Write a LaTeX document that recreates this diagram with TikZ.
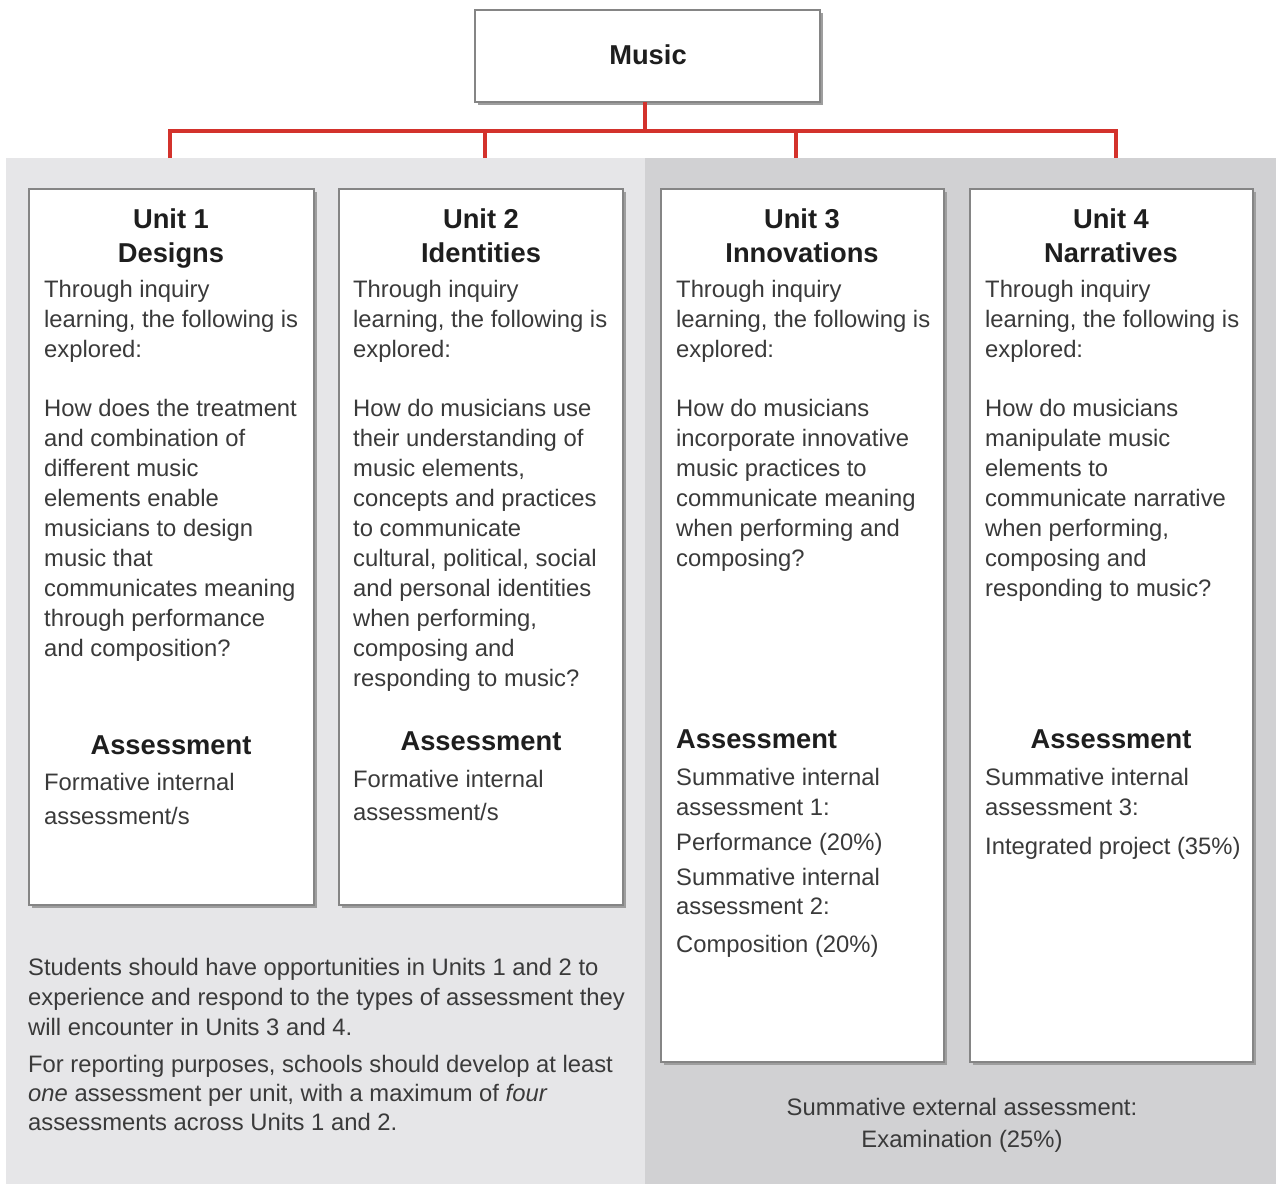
\documentclass[tikz,border=0pt]{standalone}
\usepackage{fontspec}
\setmainfont{Liberation Sans}
\definecolor{redline}{HTML}{D3322C}
\definecolor{panelA}{HTML}{E6E6E8}
\definecolor{panelB}{HTML}{D1D1D3}
\definecolor{boxline}{HTML}{858585}
\definecolor{bodytext}{HTML}{3A3A3A}
\definecolor{headtext}{HTML}{1E1E1E}
\tikzset{
  unitbox/.style={draw=boxline, line width=1.4pt, fill=white},
  shadowbox/.style={fill=black!38, draw=none},
  connector/.style={draw=redline, line width=3.2pt},
  body/.style={font=\fontsize{23.8}{30}\selectfont, text=bodytext, inner sep=0pt, anchor=base west},
  bodyc/.style={body, anchor=base},
  head/.style={font=\fontsize{27.3}{34}\selectfont\bfseries, text=headtext, inner sep=0pt, anchor=base},
  headl/.style={head, anchor=base west}
}
\begin{document}
\begin{tikzpicture}[x=1pt,y=-1pt]
\useasboundingbox (0,0) rectangle (1276,1184);
\fill[white] (0,0) rectangle (1276,1184);

% background panels
\fill[panelA] (6,158) rectangle (645,1184);
\fill[panelB] (645,158) rectangle (1276,1184);

% title box
\fill[shadowbox] (478,13) rectangle (823,105);
\draw[unitbox] (475,10) rectangle (820,102);
\node[head] (music) at (648,64) {Music};
\coordinate (musicbot) at (645,102);

% unit boxes with shadows
\fill[shadowbox] (32,192) rectangle (317,908);
\fill[shadowbox] (342,192) rectangle (626,908);
\fill[shadowbox] (664,192) rectangle (947,1065);
\fill[shadowbox] (973,192) rectangle (1256,1065);
\draw[unitbox] (29,189) rectangle (314,905);
\draw[unitbox] (339,189) rectangle (623,905);
\draw[unitbox] (661,189) rectangle (944,1062);
\draw[unitbox] (970,189) rectangle (1253,1062);

% connector tree
\coordinate (bus) at (645,131);
\coordinate (d1) at (170,158);
\coordinate (d2) at (485,158);
\coordinate (d3) at (796,158);
\coordinate (d4) at (1116,158);
\draw[connector] (musicbot) -- (bus);
\draw[connector] (d1) |- (bus) -| (d4);
\draw[connector] (d2) -- (d2 |- bus);
\draw[connector] (d3) -- (d3 |- bus);

% Unit 1
\node[head] (u1h1) at (171,228) {Unit 1};
\node[head] (u1h2) at (171,262) {Designs};
\foreach \s [count=\k from 0] in {Through inquiry, {learning, the following is}, explored:}
  \node[body] (u1a\k) at (44,{297+30*\k}) {\s};
\foreach \s [count=\k from 0] in {How does the treatment, and combination of, different music, elements enable, musicians to design, music that, communicates meaning, through performance, and composition?}
  \node[body] (u1b\k) at (44,{416+30*\k}) {\s};
\node[head] (u1as) at (171,754) {Assessment};
\node[body] (u1f1) at (44,790) {Formative internal};
\node[body] (u1f2) at (44,824) {assessment/s};

% Unit 2
\node[head] (u2h1) at (481,228) {Unit 2};
\node[head] (u2h2) at (481,262) {Identities};
\foreach \s [count=\k from 0] in {Through inquiry, {learning, the following is}, explored:}
  \node[body] (u2a\k) at (353,{297+30*\k}) {\s};
\foreach \s [count=\k from 0] in {How do musicians use, their understanding of, {music elements,}, concepts and practices, to communicate, {cultural, political, social}, and personal identities, {when performing,}, composing and, responding to music?}
  \node[body] (u2b\k) at (353,{416+30*\k}) {\s};
\node[head] (u2as) at (481,750) {Assessment};
\node[body] (u2f1) at (353,787) {Formative internal};
\node[body] (u2f2) at (353,820) {assessment/s};

% Unit 3
\node[head] (u3h1) at (802,228) {Unit 3};
\node[head] (u3h2) at (802,262) {Innovations};
\foreach \s [count=\k from 0] in {Through inquiry, {learning, the following is}, explored:}
  \node[body] (u3a\k) at (676,{297+30*\k}) {\s};
\foreach \s [count=\k from 0] in {How do musicians, incorporate innovative, music practices to, communicate meaning, when performing and, composing?}
  \node[body] (u3b\k) at (676,{416+30*\k}) {\s};
\node[headl] (u3as) at (676,748) {Assessment};
\node[body] (u3s1) at (676,785) {Summative internal};
\node[body] (u3s2) at (676,815) {assessment 1:};
\node[body] (u3s3) at (676,850) {Performance (20\%)};
\node[body] (u3s4) at (676,885) {Summative internal};
\node[body] (u3s5) at (676,914) {assessment 2:};
\node[body] (u3s6) at (676,952) {Composition (20\%)};

% Unit 4
\node[head] (u4h1) at (1111,228) {Unit 4};
\node[head] (u4h2) at (1111,262) {Narratives};
\foreach \s [count=\k from 0] in {Through inquiry, {learning, the following is}, explored:}
  \node[body] (u4a\k) at (985,{297+30*\k}) {\s};
\foreach \s [count=\k from 0] in {How do musicians, manipulate music, elements to, communicate narrative, {when performing,}, composing and, responding to music?}
  \node[body] (u4b\k) at (985,{416+30*\k}) {\s};
\node[head] (u4as) at (1111,748) {Assessment};
\node[body] (u4s1) at (985,785) {Summative internal};
\node[body] (u4s2) at (985,815) {assessment 3:};
\node[body] (u4s3) at (985,854) {Integrated project (35\%)};

% notes under Units 1 and 2
\foreach \s [count=\k from 0] in {Students should have opportunities in Units 1 and 2 to, experience and respond to the types of assessment they, will encounter in Units 3 and 4.}
  \node[body] (na\k) at (28,{975+30*\k}) {\s};
\foreach \s [count=\k from 0] in {{For reporting purposes, schools should develop at least}, {\textit{one} assessment per unit, with a maximum of \textit{four}}, assessments across Units 1 and 2.}
  \node[body] (nb\k) at (28,{1072+29*\k}) {\s};

% external assessment note
\node[bodyc] (ext1) at (962,1115) {Summative external assessment:};
\node[bodyc] (ext2) at (962,1147) {Examination (25\%)};
\end{tikzpicture}
\end{document}
